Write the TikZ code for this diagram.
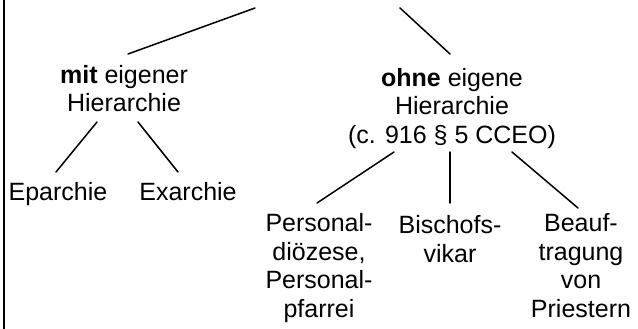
\documentclass[tikz,border=0pt]{standalone}
\usepackage{fontspec}
\setmainfont{Liberation Sans}
\begin{document}
\begin{tikzpicture}[x=1pt,y=-1pt,
  lbl/.style={inner sep=0pt, outer sep=0pt, align=center, anchor=base,
    font=\fontsize{25}{28.5}\selectfont},
  conn/.style={line width=1.5pt, line cap=round}]
\useasboundingbox (0,0) rectangle (638,329);
\begin{scope}
\clip (0,0) rectangle (638,329);
\node[lbl] (top) at (320,-0.3) {Personale kirchliche Strukturen};
\end{scope}
\draw[line width=2pt] (4,0) -- (4,329);
\node[lbl] (mit) at (124,112) {\textbf{mit} eigener\\Hierarchie};
\node[lbl] (ohne) at (452,143) {\textbf{ohne} eigene\\Hierarchie\\(c. 916 § 5 CCEO)};
\node[lbl] (epa) at (58,200) {Eparchie};
\node[lbl] (exa) at (188,200) {Exarchie};
\node[lbl] (pers) at (319,317) {Personal-\\diözese,\\Personal-\\pfarrei};
\node[lbl] (bisch) at (450,262) {Bischofs-\\vikar};
\node[lbl] (beauf) at (581,317) {Beauf-\\tragung\\von\\Priestern};
\draw[conn] ([shift={(-65,8.3)}]top.base) -- ([shift={(4,-58)}]mit.base);
\draw[conn] ([shift={(80,8.3)}]top.base) -- ([shift={(-2,-89)}]ohne.base);
\draw[conn] ([shift={(-27,10)}]mit.base) -- ([shift={(-2,-28)}]epa.base);
\draw[conn] ([shift={(14,10)}]mit.base) -- ([shift={(-10,-28)}]exa.base);
\draw[conn] ([shift={(-58,9)}]ohne.base) -- ([shift={(-2,-114)}]pers.base);
\draw[conn] ([shift={(-2,9)}]ohne.base) -- ([shift={(0,-59)}]bisch.base);
\draw[conn] ([shift={(60,9)}]ohne.base) -- ([shift={(-3,-109)}]beauf.base);
\end{tikzpicture}
\end{document}
